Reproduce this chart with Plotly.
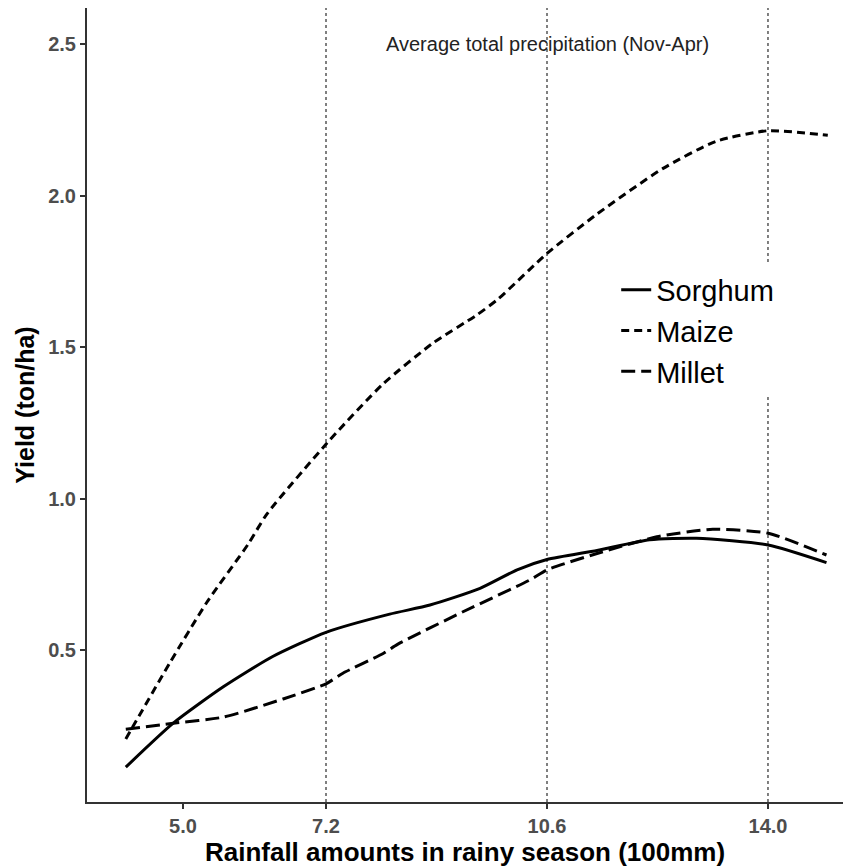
import plotly.graph_objects as go

# Rainfall (100 mm) and yield (ton/ha)
sorghum_x = [4.12, 4.85, 5.62, 6.38, 7.2, 8.18, 8.8, 9.57, 10.14, 10.6, 11.37, 12.18, 12.9, 14.0, 14.9]
sorghum_y = [0.115, 0.26, 0.38, 0.48, 0.56, 0.62, 0.65, 0.705, 0.766, 0.80, 0.83, 0.865, 0.87, 0.848, 0.79]

maize_x = [4.12, 4.8, 5.37, 6.0, 6.29, 7.26, 8.08, 8.85, 9.52, 9.85, 10.6, 11.37, 12.38, 13.2, 14.0, 14.92]
maize_y = [0.208, 0.46, 0.66, 0.85, 0.95, 1.195, 1.38, 1.515, 1.607, 1.66, 1.81, 1.94, 2.09, 2.18, 2.215, 2.20]

millet_x = [4.12, 4.85, 5.62, 6.54, 7.2, 7.46, 8.08, 8.3, 9.3, 10.34, 10.6, 11.37, 12.29, 13.15, 14.0, 14.9]
millet_y = [0.24, 0.26, 0.28, 0.34, 0.39, 0.425, 0.49, 0.52, 0.627, 0.733, 0.766, 0.82, 0.875, 0.90, 0.887, 0.815]

x_ticks = [5.0, 7.2, 10.6, 14.0]
x_tick_labels = ["5.0", "7.2", "10.6", "14.0"]
y_ticks = [0.5, 1.0, 1.5, 2.0, 2.5]
y_tick_labels = ["0.5", "1.0", "1.5", "2.0", "2.5"]
vlines = [7.2, 10.6, 14.0]

FONT = "Liberation Sans, Arial, sans-serif"

fig = go.Figure()
series = [
    ("Sorghum", sorghum_x, sorghum_y, "solid"),
    ("Maize", maize_x, maize_y, "8px,5px"),
    ("Millet", millet_x, millet_y, "14px,6px"),
]
for name, xs, ys, dash in series:
    fig.add_trace(go.Scatter(
        x=xs, y=ys, mode="lines", name=name,
        line=dict(color="black", width=3, dash=dash, shape="spline", smoothing=0.6),
    ))

for v in vlines:
    fig.add_shape(type="line", xref="x", yref="paper", x0=v, x1=v, y0=0, y1=1,
                  line=dict(color="black", width=1, dash="dot"), layer="below")

fig.add_annotation(x=10.6, y=2.5, xref="x", yref="y", text="Average total precipitation (Nov-Apr)",
                   showarrow=False, font=dict(family=FONT, size=20, color="#222222"))

fig.update_layout(
    width=857, height=867,
    margin=dict(l=87, r=14, t=8, b=65),
    plot_bgcolor="white", paper_bgcolor="white",
    font=dict(family=FONT),
    legend=dict(x=0.70, y=0.677, xanchor="left", yanchor="top",
                bgcolor="white", font=dict(family=FONT, size=29, color="black"),
                tracegroupgap=0, itemwidth=30),
    xaxis=dict(range=[3.523, 15.154], tickvals=x_ticks, ticktext=x_tick_labels,
               showgrid=False, zeroline=False, showline=True, linecolor="#333333", linewidth=2,
               ticks="outside", ticklen=5, tickwidth=2, tickcolor="#333333",
               tickfont=dict(family=FONT, size=20, color="#4d4d4d", weight="bold"),
               title=dict(text="<b>Rainfall amounts in rainy season (100mm)</b>",
                          font=dict(family=FONT, size=26, color="black"), standoff=4)),
    yaxis=dict(range=[0, 2.62], tickvals=y_ticks, ticktext=y_tick_labels,
               showgrid=False, zeroline=False, showline=True, linecolor="#333333", linewidth=2,
               ticks="outside", ticklen=5, tickwidth=2, tickcolor="#333333",
               tickfont=dict(family=FONT, size=20, color="#4d4d4d", weight="bold"),
               title=dict(text="<b>Yield (ton/ha)</b>",
                          font=dict(family=FONT, size=25, color="black"), standoff=6)),
)

fig.write_html("out.html")
